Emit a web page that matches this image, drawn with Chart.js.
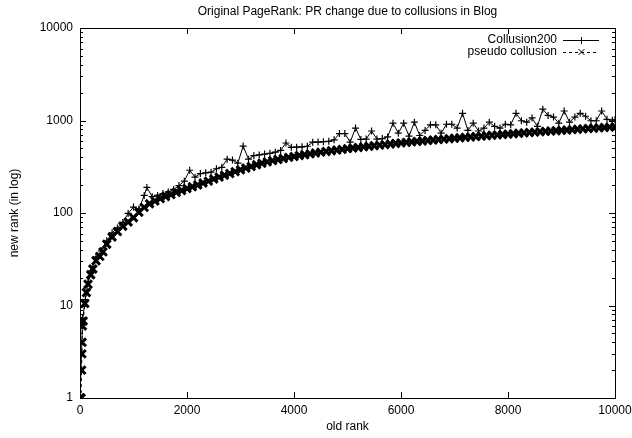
<!DOCTYPE html>
<html>
<head>
<meta charset="utf-8">
<script src="https://cdn.jsdelivr.net/npm/chart.js@4.4.0/dist/chart.umd.min.js"></script>
<style>
html, body { margin: 0; padding: 0; background: #fff; }
</style>
</head>
<body>
<canvas id="c" width="632" height="438"></canvas>
<script>
// données
const pseudoRanks = [0, 10, 20, 30, 35, 40, 45, 60, 90, 120, 150, 200, 240, 300, 370, 430,
  500, 600, 700, 800, 900, 1000, 1100, 1200, 1300, 1400, 1500, 1600, 1700, 1800, 1900,
  2000, 2100, 2200, 2300, 2400, 2500, 2600, 2700, 2800, 2900, 3000, 3100, 3200, 3300, 3400,
  3500, 3600, 3700, 3800, 3900, 4000, 4100, 4200, 4300, 4400, 4500, 4600, 4700, 4800, 4900,
  5000, 5100, 5200, 5300, 5400, 5500, 5600, 5700, 5800, 5900, 6000, 6100, 6200, 6300, 6400,
  6500, 6600, 6700, 6800, 6900, 7000, 7100, 7200, 7300, 7400, 7500, 7600, 7700, 7800, 7900,
  8000, 8100, 8200, 8300, 8400, 8500, 8600, 8700, 8800, 8900, 9000, 9100, 9200, 9300, 9400,
  9500, 9600, 9700, 9800, 9900, 10000]
const pseudoVals = [1, 1, 1, 2, 3, 4, 6, 6.8, 10.5, 13.8, 17, 21.5, 24.8, 30.5, 34, 38,
  46, 55, 63, 72, 80, 89, 102, 115, 126, 135, 143, 151, 158, 167, 175,
  184, 192, 201, 211, 221, 233, 244, 256, 267, 280, 293, 306, 318, 332, 345,
  357, 368, 379, 389, 399, 408, 418, 427, 436, 445, 455, 463, 471, 479, 487,
  496, 504, 511, 519, 527, 534, 542, 549, 557, 565, 573, 580, 587, 594, 601,
  608, 615, 622, 629, 636, 643, 650, 657, 664, 671, 678, 685, 692, 699, 706,
  713, 720, 727, 734, 741, 748, 755, 762, 769, 776, 783, 790, 797, 804, 811,
  819, 826, 833, 840, 847, 854]

const collRanks = [0, 50, 100, 150, 200, 300, 400, 500, 600, 700, 800, 900, 1000, 1100, 1200,
  1250, 1350, 1450, 1550, 1650, 1750, 1850, 1950, 2050, 2150, 2250, 2350, 2450, 2550, 2650,
  2750, 2850, 2950, 3050, 3150, 3250, 3350, 3450, 3550, 3650, 3750, 3850, 3950, 4050, 4150,
  4250, 4350, 4450, 4550, 4650, 4750, 4850, 4950, 5050, 5150, 5250, 5350, 5450, 5550, 5650,
  5750, 5850, 5950, 6050, 6150, 6250, 6350, 6450, 6550, 6650, 6750, 6850, 6950, 7050, 7150,
  7250, 7350, 7450, 7550, 7650, 7750, 7850, 7950, 8050, 8150, 8250, 8350, 8450, 8550, 8650,
  8750, 8850, 8950, 9050, 9150, 9250, 9350, 9450, 9550, 9650, 9750, 9850, 9950, 10000]
const collVals = [1, 7.3, 11.6, 18, 23.6, 33.5, 39, 50, 61, 69, 79, 99, 116, 110, 155,
  189, 150, 155, 162, 169, 180, 198, 221, 290, 244, 267, 272, 276, 301, 312,
  382, 373, 346, 529, 382, 417, 424, 433, 442, 454, 475, 571, 513, 515, 519,
  527, 583, 585, 589, 595, 618, 723, 723, 583, 829, 624, 630, 770, 630, 637,
  665, 935, 729, 935, 677, 959, 688, 782, 899, 899, 729, 911, 911, 829, 1195,
  782, 935, 770, 829, 959, 864, 829, 911, 899, 1195, 994, 959, 1065, 864, 1325,
  1136, 1089, 935, 1266, 959, 1089, 1195, 1112, 994, 994, 1266, 1030, 1006, 1018]

const xTicks = [0, 2000, 4000, 6000, 8000, 10000]
const yTicks = [1, 10, 100, 1000, 10000]

const titre = 'Original PageRank: PR change due to collusions in Blog'
const police = "'Liberation Sans', Arial, sans-serif"

// cadre, graduations vers l'intérieur, titre et légende façon gnuplot
const cadre = {
  id: 'cadre',
  afterDatasetsDraw(chart) {
    const { ctx, chartArea: a, scales } = chart
    const x = scales.x, y = scales.y
    ctx.save()
    ctx.strokeStyle = '#000'
    ctx.lineWidth = 1
    ctx.setLineDash([])
    ctx.beginPath()
    xTicks.forEach(v => {
      const p = Math.round(x.getPixelForValue(v)) + 0.5
      ctx.moveTo(p, a.bottom); ctx.lineTo(p, a.bottom - 6)
      ctx.moveTo(p, a.top); ctx.lineTo(p, a.top + 6)
    })
    for (let d = 1; d < 10000; d *= 10) {
      for (let m = 1; m <= 10; m++) {
        const len = (m === 1 || m === 10) ? 6 : 3
        const p = Math.round(y.getPixelForValue(d * m)) + 0.5
        ctx.moveTo(a.left, p); ctx.lineTo(a.left + len, p)
        ctx.moveTo(a.right, p); ctx.lineTo(a.right - len, p)
      }
    }
    ctx.stroke()
    ctx.strokeRect(Math.round(a.left) + 0.5, Math.round(a.top) + 0.5,
      Math.round(a.right - a.left), Math.round(a.bottom - a.top))

    ctx.font = '12px ' + police
    ctx.fillStyle = '#000'
    ctx.textBaseline = 'middle'
    ctx.textAlign = 'center'
    ctx.fillText(titre, (a.left + a.right) / 2, 12)

    // légende
    ctx.textAlign = 'right'
    const lx = 557, ly = [a.top + 12, a.top + 24]
    ctx.fillText('Collusion200', lx, ly[0])
    ctx.fillText('pseudo collusion', lx, ly[1])
    ctx.beginPath()
    ctx.moveTo(563, ly[0] + 0.5); ctx.lineTo(599, ly[0] + 0.5)
    ctx.moveTo(581.5, ly[0] - 3); ctx.lineTo(581.5, ly[0] + 4)
    ctx.moveTo(578, ly[0] + 0.5); ctx.lineTo(585, ly[0] + 0.5)
    ctx.stroke()
    ctx.beginPath()
    ctx.setLineDash([3, 3])
    ctx.moveTo(563, ly[1] + 0.5); ctx.lineTo(599, ly[1] + 0.5)
    ctx.stroke()
    ctx.setLineDash([])
    ctx.beginPath()
    ctx.moveTo(578.5, ly[1] - 3); ctx.lineTo(584.5, ly[1] + 3)
    ctx.moveTo(584.5, ly[1] - 3); ctx.lineTo(578.5, ly[1] + 3)
    ctx.stroke()
    ctx.restore()
  }
}

const chart = new Chart(document.getElementById('c'), {
  type: 'line',
  data: {
    datasets: [
      {
        label: 'Collusion200',
        data: collRanks.map((r, i) => ({ x: r, y: collVals[i] })),
        borderColor: '#000',
        borderWidth: 1,
        pointStyle: 'cross',
        pointRadius: 3.5,
        pointBorderWidth: 1.2,
        pointBorderColor: '#000',
        fill: false,
        tension: 0,
        order: 2
      },
      {
        label: 'pseudo collusion',
        data: pseudoRanks.map((r, i) => ({ x: r, y: pseudoVals[i] })),
        borderColor: '#000',
        borderWidth: 1,
        borderDash: [3, 3],
        pointStyle: 'crossRot',
        pointRadius: 5.5,
        pointBorderWidth: 3,
        pointBorderColor: '#000',
        fill: false,
        tension: 0,
        order: 1
      }
    ]
  },
  options: {
    responsive: false,
    animation: false,
    devicePixelRatio: 1,
    layout: { padding: { left: 0, right: 17, top: 28, bottom: 0 } },
    plugins: {
      legend: { display: false },
      tooltip: { enabled: false },
      title: { display: false }
    },
    scales: {
      x: {
        type: 'linear',
        min: 0,
        max: 10000,
        afterFit: s => { s.height = 40; s.paddingRight = 0; s.paddingLeft = 0 },
        afterBuildTicks: s => { s.ticks = xTicks.map(v => ({ value: v })) },
        grid: { display: false, drawTicks: false },
        border: { display: false },
        ticks: { color: '#000', padding: 5, maxRotation: 0, font: { family: police, size: 12 }, callback: v => String(v) },
        title: {
          display: true,
          text: 'old rank',
          color: '#000',
          font: { family: police, size: 12 },
          padding: { top: 0, bottom: 4 }
        }
      },
      y: {
        type: 'logarithmic',
        min: 1,
        max: 10000,
        afterFit: s => { s.width = 80; s.paddingTop = 0; s.paddingBottom = 0 },
        afterBuildTicks: s => { s.ticks = yTicks.map(v => ({ value: v })) },
        grid: { display: false, drawTicks: false },
        border: { display: false },
        ticks: { color: '#000', padding: 7, font: { family: police, size: 12 }, callback: v => String(v) },
        title: {
          display: true,
          text: 'new rank (in log)',
          color: '#000',
          font: { family: police, size: 12 },
          padding: { top: 7, bottom: 0 }
        }
      }
    }
  },
  plugins: [cadre]
})
</script>
</body>
</html>
